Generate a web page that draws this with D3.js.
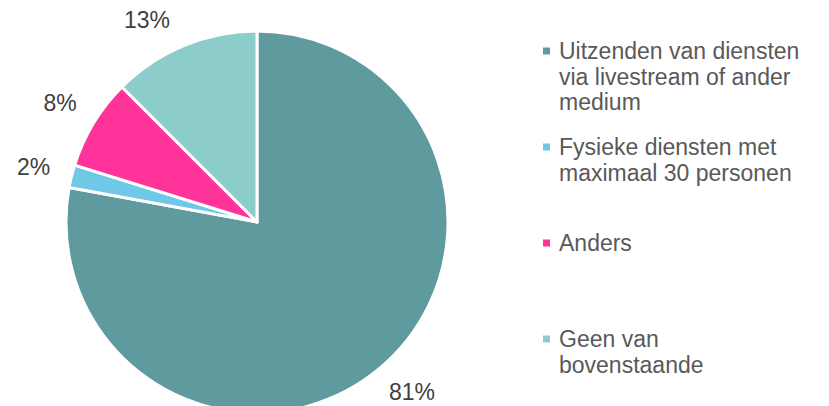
<!DOCTYPE html>
<html>
<head>
<meta charset="utf-8">
<script src="https://cdn.jsdelivr.net/npm/d3@7"></script>
<style>
  body { margin: 0; background: #fff; }
  text { font-family: "Liberation Sans", Arial, sans-serif; }
</style>
</head>
<body>
<svg id="chart" width="829" height="406"></svg>
<script>
"use strict";

// categories and values (labels as printed on the chart)
const categories = [
  ["Uitzenden van diensten", "via livestream of ander", "medium"],
  ["Fysieke diensten met", "maximaal 30 personen"],
  ["Anders"],
  ["Geen van", "bovenstaande"]
];
const values = [81, 2, 8, 13];
const labels = ["81%", "2%", "8%", "13%"];
const colors = ["#5F9B9E", "#6EC8E6", "#FF3399", "#8CCDCA"];

const svg = d3.select("#chart");
const cx = 257, cy = 222, radius = 191, labelR = 230;

const pie = d3.pie().sort(null).value(d => d);
const arc = d3.arc().innerRadius(0).outerRadius(radius);
const arcs = pie(values);

const g = svg.append("g").attr("transform", `translate(${cx},${cy})`);

g.selectAll("path.slice")
  .data(arcs)
  .enter()
  .append("path")
  .attr("class", "slice")
  .attr("d", arc)
  .attr("fill", (d, i) => colors[i])
  .attr("stroke", "#fff")
  .attr("stroke-width", 3)
  .attr("stroke-linejoin", "round");

// labels on a circle outside the pie, slid along it to stay in view
function labelPos(d) {
  const a = (d.startAngle + d.endAngle) / 2;
  let x = labelR * Math.sin(a), y = -labelR * Math.cos(a);
  const top = 20 - cy, bottom = 392 - cy;
  if (y < top) { y = top; x = Math.sign(x) * Math.sqrt(labelR * labelR - y * y); }
  if (y > bottom) { y = bottom; x = Math.sign(x) * Math.sqrt(labelR * labelR - y * y); }
  return [x, y];
}

g.selectAll("text.lbl")
  .data(arcs)
  .enter()
  .append("text")
  .attr("class", "lbl")
  .attr("x", d => labelPos(d)[0])
  .attr("y", d => labelPos(d)[1])
  .attr("text-anchor", "middle")
  .attr("dominant-baseline", "central")
  .attr("font-size", 23)
  .attr("fill", "#404040")
  .text((d, i) => labels[i]);

// legend
const legY = d3.scalePoint().domain(d3.range(categories.length)).range([51, 339]);
const leg = svg.append("g")
  .selectAll("g")
  .data(categories)
  .enter()
  .append("g")
  .attr("transform", (d, i) => `translate(543,${legY(i)})`);

leg.append("rect")
  .attr("x", 0)
  .attr("y", -3.5)
  .attr("width", 7)
  .attr("height", 7)
  .attr("fill", (d, i) => colors[i]);

leg.append("text")
  .attr("font-size", 23)
  .attr("fill", "#595959")
  .selectAll("tspan")
  .data(d => d)
  .enter()
  .append("tspan")
  .attr("x", 16)
  .attr("y", (d, i) => i * 25.5)
  .attr("dominant-baseline", "central")
  .text(d => d);
</script>
</body>
</html>
